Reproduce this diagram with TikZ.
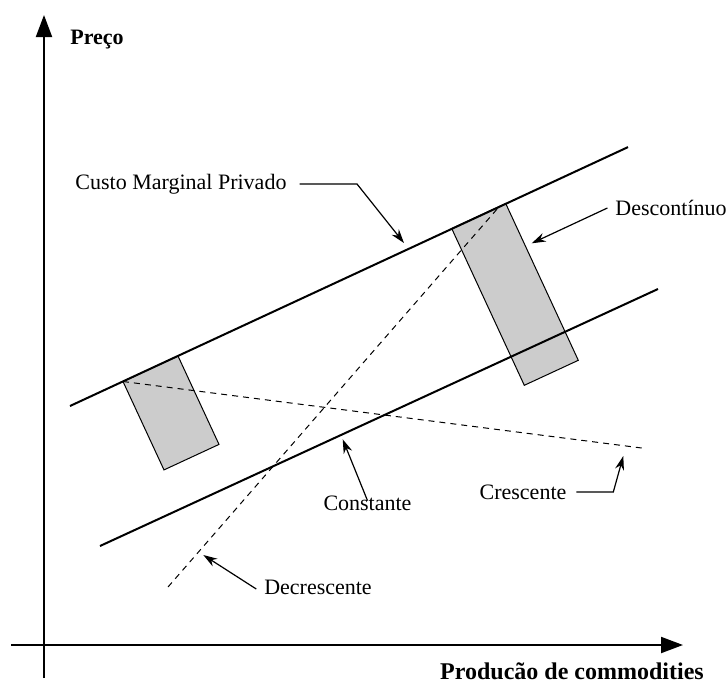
\documentclass[tikz,border=0pt]{standalone}
\usepackage{fontspec}
\setmainfont{Liberation Serif}
\usetikzlibrary{arrows.meta}
\begin{document}
\begin{tikzpicture}[x=1pt,y=-1pt,
  axisline/.style={line width=2pt, -{Triangle[length=22pt,width=16pt]}},
  costline/.style={line width=2pt},
  trendline/.style={line width=1pt, dash pattern=on 6pt off 5pt},
  band/.style={fill=black!20, draw=black, line width=1pt, line join=miter},
  leader/.style={line width=1.2pt, -{Stealth[length=14pt,width=9pt]}},
  lbl/.style={font=\fontsize{22}{26}\selectfont, inner sep=0pt, outer sep=0pt},
  axlbl/.style={font=\fontsize{22}{26}\selectfont\bfseries, inner sep=0pt}]
\useasboundingbox (0,0) rectangle (728,683);

% shaded bands across the cost curves
\draw[band] (123,381.5) -- (178,356) -- (219,444.4) -- (164,469.9) -- cycle;
\draw[band] (451.7,228.5) -- (505.7,203.5) -- (578.3,360.3) -- (524.3,385.3) -- cycle;

% dashed trends
\draw[trendline] (168,587) -- (498,208);
\draw[trendline] (123,381.5) -- (641.7,448);

% parallel cost curves
\draw[costline] (70,406) -- (628,147.1);
\draw[costline] (100,546) -- (658,289);

% axes
\draw[axisline] (44,678) -- (44,15);
\draw[axisline] (11,645) -- (683,645);
\node[axlbl] (py) at (97,40) {Preço};
\node[axlbl, font=\fontsize{24}{28}\selectfont\bfseries] (px) at (572,671) {Producão de commodities};

% labels with leaders
\node[lbl] (cmp) at (181,184) {Custo Marginal Privado};
\coordinate (cmpK) at (357,184);
\coordinate (cmpT) at (404,243);
\draw[leader] ([xshift=13pt]cmp.east) -- (cmpK) -- (cmpT);

\node[lbl] (desc) at (671,208) {Descontínuo};
\coordinate (descT) at (531.7,243.3);
\draw[leader] ([xshift=-8pt]desc.west) -- (descT);

\node[lbl] (const) at (367.5,503) {Constante};
\coordinate (constT) at (342.7,439.3);
\draw[leader] ([yshift=-5pt]const.north) -- (constT);

\node[lbl] (decr) at (318,587) {Decrescente};
\coordinate (decrT) at (203.3,555);
\draw[leader] ([xshift=-8pt,yshift=-2pt]decr.west) -- (decrT);

\node[lbl] (cresc) at (523,492) {Crescente};
\coordinate (crescK) at (613.3,492);
\coordinate (crescT) at (623.3,456);
\draw[leader] ([xshift=10pt]cresc.east) -- (crescK) -- (crescT);
\end{tikzpicture}
\end{document}
